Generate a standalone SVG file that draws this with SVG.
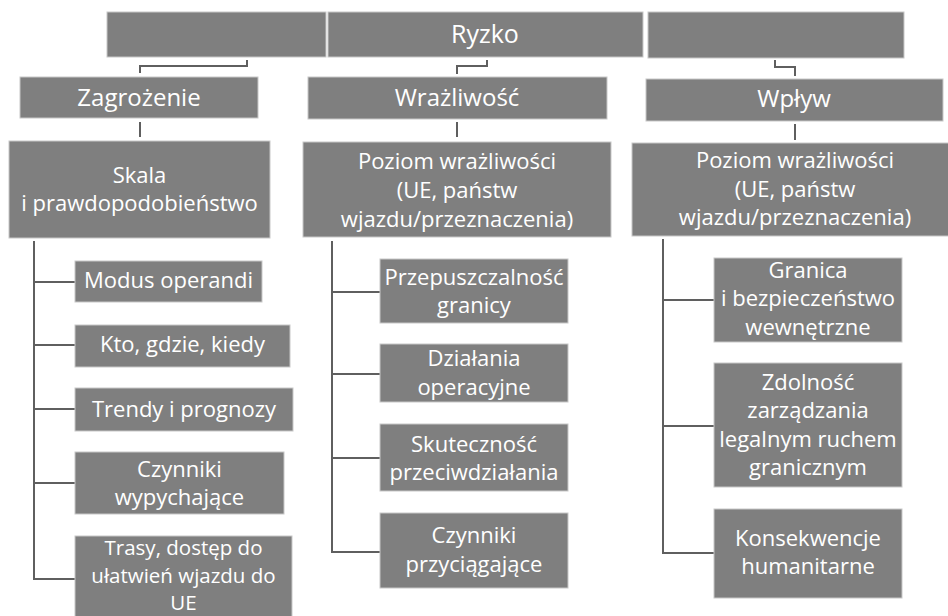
<svg xmlns="http://www.w3.org/2000/svg" width="948" height="616" viewBox="0 0 948 616">
<style>
.box{fill:#7f7f7f;stroke:#c8c8c8;stroke-width:1}
text{font-family:"Open Sans","Noto Sans","DejaVu Sans",sans-serif;fill:#ffffff;text-anchor:middle;font-size:22px}
.t1{font-size:25px}
.t2{font-size:24px}
.t3{font-size:20.5px}
.conn path{fill:none;stroke:#5f5f5f;stroke-width:2}
</style>
<rect width="948" height="616" fill="#ffffff"/>
<g class="conn" id="connectors">
<path d="M247,60 V66 H140 V73"/>
<path d="M487,60 V66 H457 V74"/>
<path d="M775,60 V67 H795 V76"/>
<path d="M140,122 V137"/>
<path d="M457,122 V137"/>
<path d="M795,124 V140"/>
<path d="M34,241 V579 H75"/>
<path d="M34,282 H75 M34,345 H75 M34,409 H75 M34,483 H75"/>
<path d="M332,241 V552 H380"/>
<path d="M332,292 H380 M332,374 H380 M332,458 H380"/>
<path d="M663,239 V553 H714"/>
<path d="M663,300 H714 M663,426 H714"/>
</g>
<g id="top-left"><rect class="box" x="107" y="12" width="219" height="45"/></g>
<g id="ryzko"><rect class="box" x="328" y="12" width="315" height="45"/><text class="t1" x="485" y="43">Ryzko</text></g>
<g id="top-right"><rect class="box" x="648" y="12" width="256" height="46"/></g>
<g id="zagrozenie"><rect class="box" x="20" y="77" width="238" height="41"/><text class="t2" x="139" y="106">Zagrożenie</text></g>
<g id="wrazliwosc"><rect class="box" x="308" y="77" width="299" height="42"/><text class="t2" x="457" y="106">Wrażliwość</text></g>
<g id="wplyw"><rect class="box" x="646" y="79" width="297" height="42"/><text class="t2" x="794" y="107">Wpływ</text></g>
<g id="skala"><rect class="box" x="9" y="141" width="261" height="97"/><text x="139.5" y="183">Skala</text><text x="139.5" y="211">i prawdopodobieństwo</text></g>
<g id="poziom-1"><rect class="box" x="303" y="142" width="308" height="95"/><text x="457" y="169">Poziom wrażliwości</text><text x="457" y="198">(UE, państw</text><text x="457" y="227">wjazdu/przeznaczenia)</text></g>
<g id="poziom-2"><rect class="box" x="632" y="143" width="326" height="93"/><text x="795" y="168">Poziom wrażliwości</text><text x="795" y="197">(UE, państw</text><text x="795" y="225">wjazdu/przeznaczenia)</text></g>
<g id="modus"><rect class="box" x="75" y="261" width="187" height="41"/><text x="168.5" y="288">Modus operandi</text></g>
<g id="kto"><rect class="box" x="75" y="325" width="215" height="42"/><text x="182.5" y="352">Kto, gdzie, kiedy</text></g>
<g id="trendy"><rect class="box" x="75" y="388" width="218" height="43"/><text x="184" y="417">Trendy i prognozy</text></g>
<g id="czynniki-w"><rect class="box" x="75" y="452" width="209" height="62"/><text x="179.5" y="477">Czynniki</text><text x="179.5" y="505">wypychające</text></g>
<g id="trasy"><rect class="box" x="75" y="536" width="217" height="85"/><text class="t3" x="183.5" y="555">Trasy, dostęp do</text><text class="t3" x="183.5" y="582.5">ułatwień wjazdu do</text><text class="t3" x="183.5" y="610">UE</text></g>
<g id="przepuszczalnosc"><rect class="box" x="380" y="259" width="188" height="64"/><text x="474" y="285">Przepuszczalność</text><text x="474" y="313">granicy</text></g>
<g id="dzialania"><rect class="box" x="380" y="344" width="188" height="58"/><text x="474" y="366">Działania</text><text x="474" y="395">operacyjne</text></g>
<g id="skutecznosc"><rect class="box" x="380" y="424" width="188" height="67"/><text x="474" y="452">Skuteczność</text><text x="474" y="480">przeciwdziałania</text></g>
<g id="czynniki-p"><rect class="box" x="380" y="513" width="188" height="75"/><text x="474" y="543">Czynniki</text><text x="474" y="572">przyciągające</text></g>
<g id="granica"><rect class="box" x="714" y="258" width="188" height="84"/><text x="808" y="278">Granica</text><text x="808" y="306">i bezpieczeństwo</text><text x="808" y="335">wewnętrzne</text></g>
<g id="zdolnosc"><rect class="box" x="714" y="363" width="188" height="124"/><text x="808" y="390">Zdolność</text><text x="808" y="418">zarządzania</text><text x="808" y="447">legalnym ruchem</text><text x="808" y="475">granicznym</text></g>
<g id="konsekwencje"><rect class="box" x="714" y="509" width="188" height="89"/><text x="808" y="546">Konsekwencje</text><text x="808" y="574">humanitarne</text></g>
</svg>
